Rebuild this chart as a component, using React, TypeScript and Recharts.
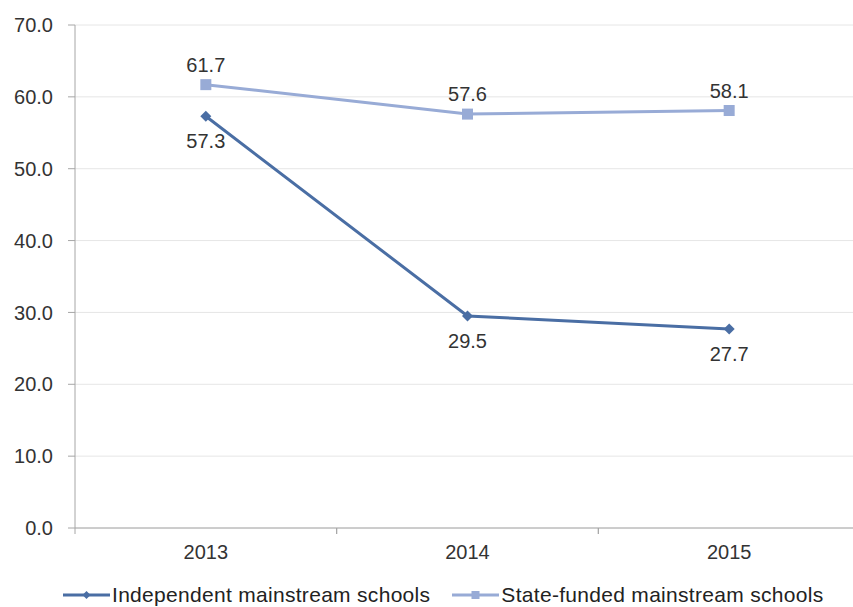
import { CartesianGrid, LabelList, Line, LineChart, XAxis, YAxis } from "recharts";

const years = ["2013", "2014", "2015"];
const independent = [57.3, 29.5, 27.7];
const stateFunded = [61.7, 57.6, 58.1];
const yTicks = [0, 10, 20, 30, 40, 50, 60, 70];

const data = years.map((year, i) => ({
  year,
  independent: independent[i],
  stateFunded: stateFunded[i],
}));

const DARK = "#4a6ea4";
const LIGHT = "#98abd6";
const FONT = "'Liberation Sans', Arial, sans-serif";

function Diamond({ cx, cy }: any) {
  if (cx == null || cy == null) return null;
  const r = 5.5;
  return (
    <polygon
      points={`${cx},${cy - r} ${cx + r},${cy} ${cx},${cy + r} ${cx - r},${cy}`}
      fill={DARK}
    />
  );
}

function Square({ cx, cy }: any) {
  if (cx == null || cy == null) return null;
  return <rect x={cx - 5.5} y={cy - 5.5} width={11} height={11} fill={LIGHT} />;
}

function XTick({ x, y, payload }: any) {
  const half = payload?.offset ?? 130;
  return (
    <g>
      <line x1={x - half} y1={y - 8} x2={x - half} y2={y - 2} stroke="#a6a6a6" />
      <line x1={x + half} y1={y - 8} x2={x + half} y2={y - 2} stroke="#a6a6a6" />
      <text x={x} y={y + 23} textAnchor="middle" fontSize={20} fill="#333" fontFamily={FONT}>
        {payload.value}
      </text>
    </g>
  );
}

function Legend() {
  const item = (color: string, label: string, marker: "d" | "s", gap: number) => (
    <div style={{ display: "flex", alignItems: "center", marginRight: gap }}>
      <svg width={47} height={12} style={{ marginRight: 2 }}>
        <line x1={0} y1={6} x2={47} y2={6} stroke={color} strokeWidth={3} />
        {marker === "d" ? (
          <polygon points="23.5,2 27.5,6 23.5,10 19.5,6" fill={color} />
        ) : (
          <rect x={19.5} y={2} width={8} height={8} fill={color} />
        )}
      </svg>
      <span style={{ fontSize: 21, letterSpacing: 0.3, color: "#222", fontFamily: FONT }}>
        {label}
      </span>
    </div>
  );
  return (
    <div
      style={{
        position: "absolute",
        top: 582,
        left: 63,
        display: "flex",
        alignItems: "center",
        height: 26,
        whiteSpace: "nowrap",
      }}
    >
      {item(DARK, "Independent mainstream schools", "d", 22)}
      {item(LIGHT, "State-funded mainstream schools", "s", 0)}
    </div>
  );
}

export default function App() {
  return (
    <div
      style={{
        position: "absolute",
        top: 0,
        left: 0,
        width: 853,
        height: 607,
        background: "#fff",
        overflow: "hidden",
      }}
    >
      <LineChart
        width={860}
        height={607}
        data={data}
        margin={{ top: 25, right: 0, left: 0, bottom: 0 }}
      >
        <CartesianGrid vertical={false} stroke="#e6e6e6" />
        <XAxis
          dataKey="year"
          scale="band"
          stroke="#a6a6a6"
          tickLine={false}
          tick={<XTick />}
          height={79}
        />
        <YAxis
          domain={[0, 70]}
          ticks={yTicks}
          width={75}
          stroke="#a6a6a6"
          tickSize={7}
          tickMargin={15}
          tickFormatter={(v: number) => v.toFixed(1)}
          tick={{ fontSize: 20, fill: "#333", fontFamily: FONT }}
        />
        <Line
          dataKey="independent"
          stroke={DARK}
          strokeWidth={3}
          dot={<Diamond />}
          isAnimationActive={false}
        >
          <LabelList
            dataKey="independent"
            position="bottom"
            offset={18}
            formatter={(v: number) => v.toFixed(1)}
            style={{ fontSize: 20, fill: "#333", fontFamily: FONT }}
          />
        </Line>
        <Line
          dataKey="stateFunded"
          stroke={LIGHT}
          strokeWidth={3}
          dot={<Square />}
          isAnimationActive={false}
        >
          <LabelList
            dataKey="stateFunded"
            position="top"
            offset={13}
            formatter={(v: number) => v.toFixed(1)}
            style={{ fontSize: 20, fill: "#333", fontFamily: FONT }}
          />
        </Line>
      </LineChart>
      <Legend />
    </div>
  );
}
